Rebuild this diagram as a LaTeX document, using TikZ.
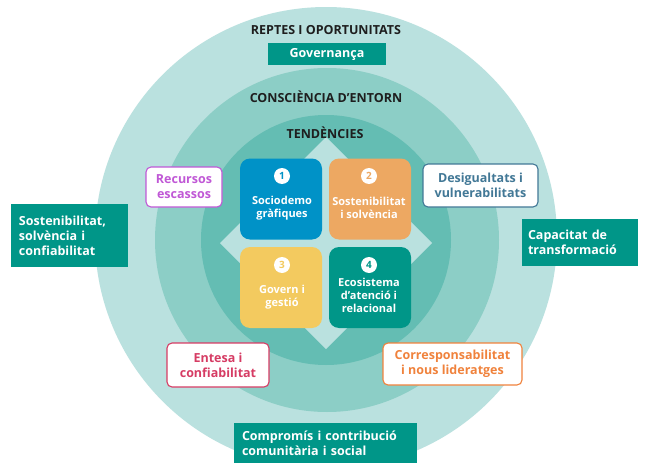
\documentclass[tikz,border=0pt]{standalone}
\usepackage{fontspec}
\setmainfont{Open Sans}
\definecolor{ringA}{RGB}{186,225,223}
\definecolor{ringB}{RGB}{140,206,198}
\definecolor{ringC}{RGB}{100,189,179}
\definecolor{tealbox}{RGB}{0,150,136}
\definecolor{sqblue}{RGB}{0,146,199}
\definecolor{sqorange}{RGB}{237,168,98}
\definecolor{sqyellow}{RGB}{243,202,95}
\definecolor{sqteal}{RGB}{0,150,136}
\definecolor{cpurple}{RGB}{192,88,214}
\definecolor{cblue}{RGB}{66,120,150}
\definecolor{cred}{RGB}{214,60,100}
\definecolor{corange}{RGB}{240,130,60}
\definecolor{darktext}{RGB}{30,30,30}
\begin{document}
\begin{tikzpicture}[x=1pt,y=-1pt,
  heading/.style={text=darktext,font=\bfseries\fontsize{12.5}{15}\selectfont,inner sep=0pt},
  solidbox/.style={fill=tealbox,text=white,font=\bfseries\fontsize{12.5}{15}\selectfont,inner sep=0pt,align=left},
  outbox/.style={draw=#1,fill=white,text=#1,line width=1.1pt,rounded corners=5pt,font=\bfseries\fontsize{12.5}{15}\selectfont,inner sep=0pt,align=center},
  sq/.style={fill=#1,rounded corners=10pt,minimum width=82pt,minimum height=81pt,inner sep=0pt},
  sqtext/.style={text=white,font=\bfseries\fontsize{11}{13}\selectfont,align=center,inner sep=0pt},
  num/.style={circle,fill=white,text=#1,minimum size=16pt,inner sep=0pt,font=\bfseries\fontsize{10}{10}\selectfont}
]
\useasboundingbox (0,0) rectangle (646,463);
\clip (0,0) rectangle (646,463);
\fill[white] (0,0) rectangle (646,463);
% rings
\fill[ringA] (326,238) circle (231pt);
\fill[ringB] (327,240) circle (172pt);
\fill[ringC] (326,240) circle (125pt);
\fill[ringA] (326,137) -- (432,243) -- (326,349) -- (220,243) -- cycle;
% headings
\node[heading] (reptes) at (326,30) {REPTES I OPORTUNITATS};
\node[solidbox,minimum width=118pt,minimum height=22pt,align=center] (gov) at (327,54) {Governança};
\node[heading] (consc) at (326,97) {CONSCIÈNCIA D’ENTORN};
\node[heading] (tend) at (325,133) {TENDÈNCIES};
% squares
\node[sq=sqblue] (s1) at (281,199) {};
\node[sq=sqorange] (s2) at (370,199) {};
\node[sq=sqyellow] (s3) at (281,287.5) {};
\node[sq=sqteal] (s4) at (370,287.5) {};
\node[num=sqblue] (n1) at (282,176) {1};
\node[num=sqorange] (n2) at (369,176) {2};
\node[num=sqyellow] (n3) at (282,265) {3};
\node[num=sqteal] (n4) at (369,265) {4};
\node[sqtext] (t1) at (282,208) {Sociodemo\\gràfiques};
\node[sqtext] (t2) at (369,208) {Sostenibilitat\\i solvència};
\node[sqtext] (t3) at (282,297) {Govern i\\gestió};
\node[sqtext] (t4) at (369,295) {Ecosistema\\d’atenció i\\relacional};
% outlined boxes
\node[outbox=cpurple,minimum width=76pt,minimum height=40pt] (rec) at (184,187) {Recursos\\escassos};
\node[outbox=cblue,minimum width=115pt,minimum height=43pt] (des) at (480.5,185.5) {Desigualtats i\\vulnerabilitats};
\node[outbox=cred,minimum width=102pt,minimum height=44pt] (ent) at (218,365) {Entesa i\\confiabilitat};
\node[outbox=corange,minimum width=139pt,minimum height=42pt] (cor) at (452.5,364) {Corresponsabilitat\\i nous lideratges};
% solid boxes
\node[solidbox,minimum width=117pt,minimum height=63pt,text width=101pt] (sos) at (69.5,235.5) {Sostenibilitat,\\solvència i\\confiabilitat};
\node[solidbox,minimum width=116pt,minimum height=47pt,text width=104pt] (cap) at (580,242.5) {Capacitat de\\transformació};
\node[solidbox,minimum width=183pt,minimum height=40pt,text width=167pt] (com) at (325.5,443) {Compromís i contribució\\comunitària i social};
\end{tikzpicture}
\end{document}
